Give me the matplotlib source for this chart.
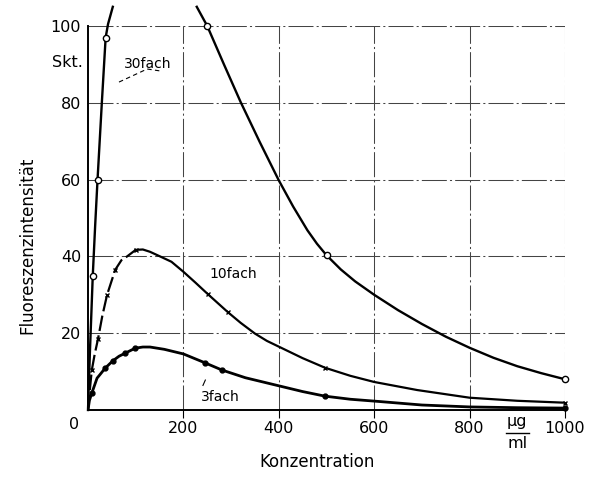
import numpy as np
import matplotlib
matplotlib.use("Agg")
import matplotlib.pyplot as plt
from matplotlib.transforms import blended_transform_factory

# curve readings (concentration in ug/ml, intensity in Skt.)
x30_rise = [0, 4, 10, 15, 20, 29, 37, 42, 52]
y30_rise = [0, 15, 35, 48, 60, 80, 97, 100.5, 105]
x30_fall = [228, 250, 285, 320, 360, 400, 430, 460, 480, 500, 530, 560, 600, 650, 700, 750, 800,
            850, 900, 950, 1000]
y30_fall = [105, 100, 90, 80.2, 69.8, 59.8, 53.0, 46.8, 43.3, 40.3, 36.6, 33.5, 30.0, 26.0, 22.4,
            19.1, 16.2, 13.6, 11.4, 9.6, 8]
x30_pts = [10, 20, 37, 250, 500, 1000]
y30_pts = [35, 60, 97, 100, 40.3, 8]

x10 = [0, 4, 8, 14, 21, 30, 40, 57, 70, 82, 100, 115, 130, 151, 175, 200, 225, 251, 293, 320, 350,
       375, 400, 450, 497, 550, 600, 690, 800, 900, 1000]
y10 = [0, 5.5, 10.4, 14.5, 18.5, 24.5, 30, 36.5, 39, 40, 41.7, 41.8, 41.2, 40, 38.6, 36, 33.2, 30.2,
       25.5, 22.7, 19.9, 18.0, 16.5, 13.5, 11, 8.9, 7.3, 5.2, 3.2, 2.4, 1.9]
x10_pts = [8, 21, 40, 57, 100, 251, 293, 497, 1000]
y10_pts = [10.4, 18.5, 30, 36.5, 41.7, 30.2, 25.5, 11, 1.9]

x3 = [0, 3, 8, 19, 25, 36, 52, 65, 78, 99, 115, 130, 160, 200, 245, 281, 330, 400, 450, 497,
      550, 612, 700, 800, 900, 1000]
y3 = [0, 2.5, 4.4, 8.3, 9.2, 10.9, 12.8, 14.0, 14.8, 16.1, 16.4, 16.4, 15.8, 14.6, 12.3, 10.4,
      8.4, 6.3, 4.8, 3.6, 2.8, 2.2, 1.3, 0.8, 0.6, 0.5]
x3_pts = [8, 36, 52, 78, 99, 245, 281, 497, 1000]
y3_pts = [4.4, 10.9, 12.8, 14.8, 16.1, 12.3, 10.4, 3.6, 0.5]

xticks = [200, 400, 600, 800, 1000]
yticks = [20, 40, 60, 80, 100]

plt.rcParams["font.family"] = ["DejaVu Sans"]

fig = plt.figure(figsize=(5.93, 4.8), dpi=100)
ax = fig.add_axes([88 / 593, 70 / 480, 477 / 593, 384 / 480])
ax.set_xlim(0, 1000)
ax.set_ylim(0, 100)

ax.set_xticks(xticks)
ax.set_yticks(yticks)
ax.tick_params(axis="x", direction="out", length=6, width=0.8, pad=2, labelsize=11.5)
ax.tick_params(axis="y", length=0, pad=5, labelsize=11.5)
ax.grid(True, color="#444444", lw=0.75, ls=(0, (24, 3, 2, 3)))

for s in ["top", "right"]:
    ax.spines[s].set_visible(False)
for s in ["left", "bottom"]:
    ax.spines[s].set_linewidth(1.4)

lc = "black"
ax.plot(x30_rise, y30_rise, color=lc, lw=1.7, clip_on=False, zorder=3)
ax.plot(x30_fall, y30_fall, color=lc, lw=1.7, clip_on=False, zorder=3)
ax.plot(x30_pts, y30_pts, ls="none", marker="o", ms=4.5, mfc="white", mec=lc, mew=1.0,
        clip_on=False, zorder=4)

n = 11  # rising part of 10fach is drawn broken
ax.plot(x10[:n], y10[:n], color=lc, lw=1.6, ls=(0, (7, 2)), zorder=3)
ax.plot(x10[n - 1:], y10[n - 1:], color=lc, lw=1.6, zorder=3)
ax.plot(x10_pts, y10_pts, ls="none", marker="x", ms=3, mec=lc, mew=1.0, clip_on=False, zorder=4)

ax.plot(x3, y3, color=lc, lw=2.0, zorder=3)
ax.plot(x3_pts, y3_pts, ls="none", marker="o", ms=3.5, color=lc, clip_on=False, zorder=4)

# curve labels
ax.text(126, 90, "30fach", fontsize=10, ha="center", va="center")
ax.plot([65, 124, 151], [85.4, 88.8, 88.3], color=lc, lw=0.8, ls=(0, (4, 3)))
ax.text(304, 35.4, "10fach", fontsize=10, ha="center", va="center")
ax.text(277, 3.4, "3fach", fontsize=10, ha="center", va="center")
ax.plot([241, 246], [6.4, 7.8], color=lc, lw=0.8)

# extra axis texts
tr = blended_transform_factory(ax.transAxes, ax.transData)
ax.text(-0.011, 90.6, "Skt.", transform=tr, ha="right", va="center", fontsize=11.5)
ax.text(-30, -3.7, "0", ha="center", va="center", fontsize=11.5, clip_on=False)
ax.text(900, -3.0, "µg", ha="center", va="center", fontsize=11.5, clip_on=False)
ax.plot([876, 924], [-6, -6], color=lc, lw=1.0, clip_on=False)
ax.text(900, -8.7, "ml", ha="center", va="center", fontsize=11.5, clip_on=False)

ax.set_xlabel("Konzentration", fontsize=12)
ax.xaxis.set_label_coords(0.48, -0.112)
ax.set_ylabel("Fluoreszenzintensität", fontsize=12)
ax.yaxis.set_label_coords(-0.109, 0.43)

fig.savefig("out.png", dpi=100)
